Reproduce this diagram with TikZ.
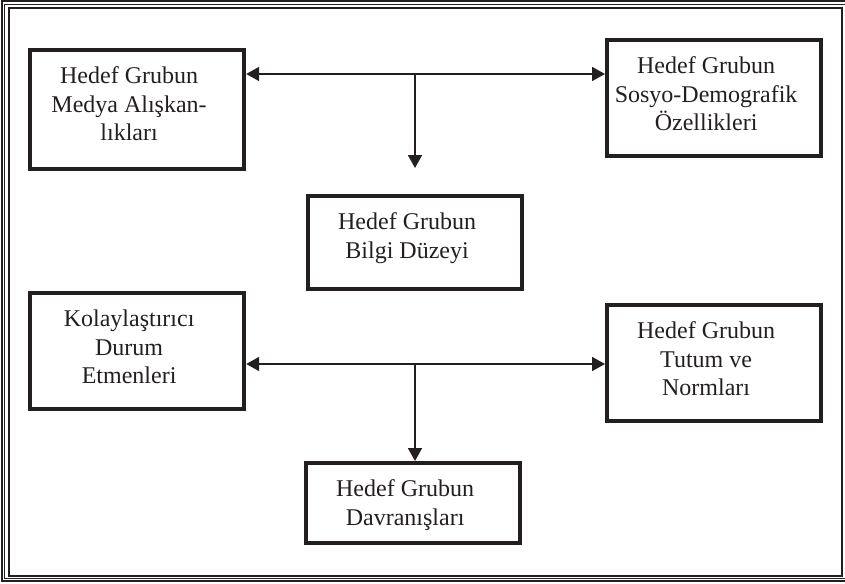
\documentclass[tikz,border=0pt]{standalone}
\usepackage{fontspec}
\setmainfont{Liberation Serif}
\usepackage{xcolor}
\usepackage{tikz}
\usetikzlibrary{arrows.meta}
\definecolor{koyu}{RGB}{35,31,32}

\newcommand{\kutuyazi}[2]{\parbox[t][#1][t]{214pt}{\centering\rightskip=16pt plus 1fil\rule{0pt}{33.5pt}#2}}

\begin{document}
\begin{tikzpicture}[x=1pt, y=-1pt,
    kutu/.style={draw=koyu, line width=4.2pt, inner sep=0pt, anchor=north west, text=koyu,
      font=\fontsize{24}{28.5}\selectfont},
    ok/.style={draw=koyu, line width=1.8pt},
    uc/.style={-{Triangle[length=13pt,width=14pt]}},
    ciftuc/.style={{Triangle[length=13pt,width=14pt]}-{Triangle[length=13pt,width=14pt]}},
    cerceve/.style={draw=koyu, line width=2pt}]
  \useasboundingbox (0,0) rectangle (845,583);
  \draw[cerceve] (1.5,1.5) rectangle (850,580.5);
  \draw[cerceve, line width=1pt] (4.5,4.5) rectangle (850,578);
  \draw[cerceve] (8.5,8.5) rectangle (842,575.5);

  \node[kutu] (medya) at (28,48) {\kutuyazi{119pt}{Hedef Grubun\\Medya Alışkan-\\lıkları}};
  \node[kutu] (sosyo) at (605,38) {\kutuyazi{116pt}{Hedef Grubun\\Sosyo-Demografik\\Özellikleri}};
  \node[kutu] (bilgi) at (306,194) {\kutuyazi{93pt}{Hedef Grubun\\Bilgi Düzeyi}};
  \node[kutu] (kolay) at (28,291) {\kutuyazi{116pt}{Kolaylaştırıcı\\Durum\\Etmenleri}};
  \node[kutu] (tutum) at (605,303) {\kutuyazi{116pt}{Hedef Grubun\\Tutum ve\\Normları}};
  \node[kutu] (davranis) at (304,461) {\kutuyazi{80pt}{Hedef Grubun\\Davranışları}};

  \coordinate (ust) at (415,74);
  \coordinate (ustuc) at (415,168);
  \coordinate (alt) at (415,364);

  \draw[ok, ciftuc] (medya.east |- ust) -- (sosyo.west |- ust);
  \draw[ok, uc] (ust) -- (ustuc);
  \draw[ok, ciftuc] (kolay.east |- alt) -- (tutum.west |- alt);
  \draw[ok, uc] (alt) -- (alt |- davranis.north);
\end{tikzpicture}
\end{document}
